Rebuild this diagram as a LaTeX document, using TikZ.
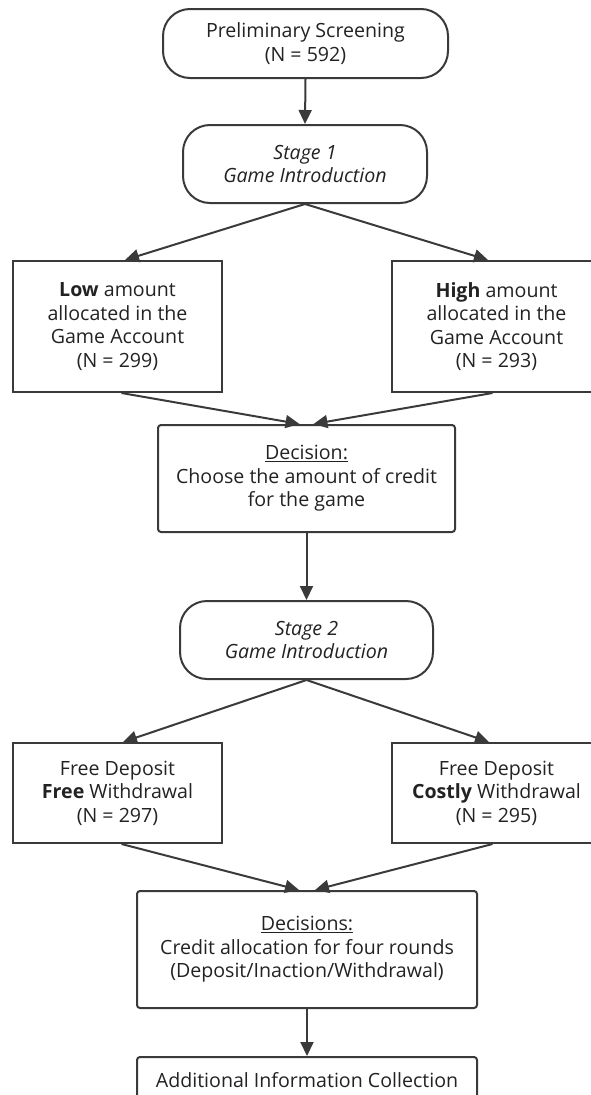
\documentclass[tikz,border=0pt]{standalone}
\usepackage{fontspec}
\setmainfont{Open Sans}
\usetikzlibrary{arrows.meta}
\definecolor{linegray}{HTML}{3A3A3A}
\definecolor{textgray}{HTML}{222222}
\tikzset{
  flowbox/.style={draw=linegray, line width=2pt, align=center, inner sep=0pt,
    text=textgray, font=\fontsize{19.6}{23.5}\selectfont},
  pill/.style={flowbox, rounded corners=27pt},
  squarebox/.style={flowbox},
  softbox/.style={flowbox, rounded corners=3pt},
  flowarrow/.style={draw=linegray, line width=2pt, -{Triangle[length=14pt,width=13pt]}},
}
\begin{document}
\begin{tikzpicture}[x=1pt,y=-1pt]
      \useasboundingbox (0,0) rectangle (591,1095);
      \clip (0,0) rectangle (591,1095);
      \draw
        (305.5,43.5) node[pill, minimum width=285pt, minimum height=69pt] (prelim)
          {Preliminary Screening\\(N = 592)}
        (305,164) node[pill, minimum width=244pt, minimum height=78pt] (stage1)
          {\itshape Stage 1\\\itshape Game Introduction}
        (117.5,326.5) node[squarebox, minimum width=209pt, minimum height=131pt] (low)
          {\textbf{Low} amount\\allocated in the\\Game Account\\(N = 299)}
        (496.5,326.5) node[squarebox, minimum width=209pt, minimum height=131pt] (high)
          {\textbf{High} amount\\allocated in the\\Game Account\\(N = 293)}
        (306.5,478.5) node[softbox, minimum width=297pt, minimum height=107pt] (decision)
          {\underline{Decision:}\\Choose the amount of credit\\for the game}
        (306.5,640) node[pill, minimum width=253pt, minimum height=78pt] (stage2)
          {\itshape Stage 2\\\itshape Game Introduction}
        (117.5,793) node[squarebox, minimum width=209pt, minimum height=100pt] (free)
          {Free Deposit\\\textbf{Free} Withdrawal\\(N = 297)}
        (496.5,793) node[squarebox, minimum width=209pt, minimum height=100pt] (costly)
          {Free Deposit\\\textbf{Costly} Withdrawal\\(N = 295)}
        (307,949.5) node[softbox, minimum width=340pt, minimum height=117pt] (decisions)
          {\underline{Decisions:}\\Credit allocation for four rounds\\(Deposit/Inaction/Withdrawal)}
        (307,1080) node[softbox, minimum width=340pt, minimum height=46pt] (extra)
          {Additional Information Collection};
      \begin{scope}[flowarrow]
        \draw (prelim.south) -- (stage1.north);
        \draw (stage1.south) -- ([xshift=7.5pt]low.north);
        \draw (stage1.south) -- ([xshift=-8.5pt]high.north);
        \draw ([xshift=4pt]low.south) -- ([xshift=-7pt]decision.north);
        \draw ([xshift=-4pt]high.south) -- ([xshift=7pt]decision.north);
        \draw (decision.south) -- (stage2.north);
        \draw (stage2.south) -- ([xshift=5.5pt]free.north);
        \draw (stage2.south) -- ([xshift=-7.5pt]costly.north);
        \draw ([xshift=4pt]free.south) -- ([xshift=-8pt]decisions.north);
        \draw ([xshift=-4pt]costly.south) -- ([xshift=8pt]decisions.north);
        \draw (decisions.south) -- (extra.north);
      \end{scope}
    \end{tikzpicture}
\end{document}
